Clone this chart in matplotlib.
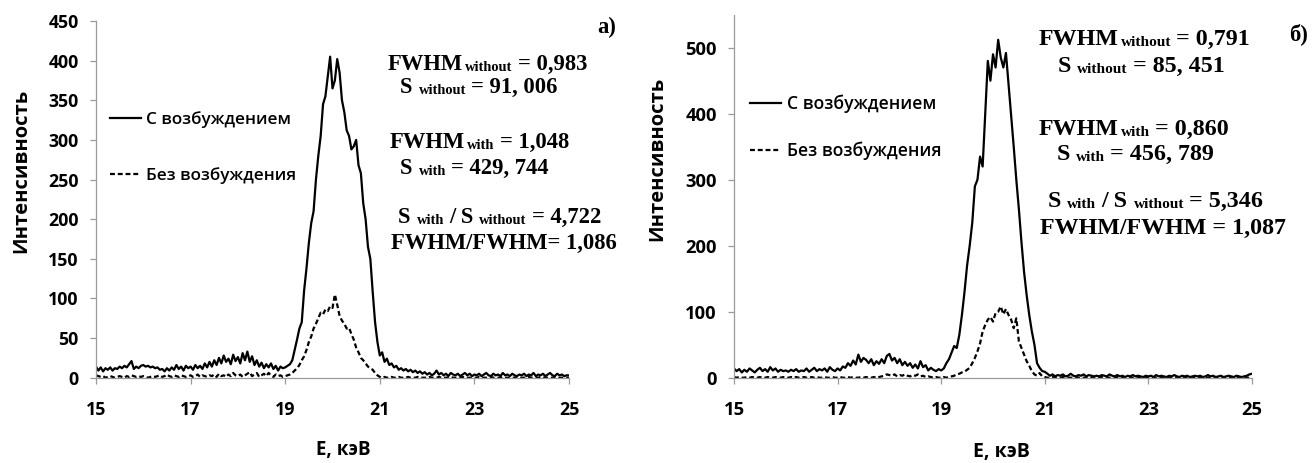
import matplotlib
matplotlib.use('Agg')
import matplotlib.pyplot as plt
import numpy as np

# energy grid, keV (0.05 keV step)
energy = np.round(np.arange(15, 25.001, 0.05), 2)

# panel a) intensities, one row per keV
with_a = [
    14, 9, 13, 8, 12, 10, 13, 9, 12, 11, 14, 12, 15, 13, 17, 21, 11, 14, 12, 15,
    16, 14, 15, 13, 14, 12, 13, 10, 11, 8, 12, 9, 13, 10, 16, 11, 14, 9, 15, 12,
    14, 10, 16, 12, 15, 11, 18, 13, 20, 14, 22, 16, 25, 18, 28, 20, 24, 17, 29, 21,
    26, 18, 31, 22, 33, 20, 27, 16, 22, 14, 19, 12, 17, 13, 18, 11, 15, 9, 14, 12,
    13, 15, 17, 22, 35, 48, 62, 70, 110, 138, 170, 195, 210, 250, 280, 305, 345, 355, 380, 405,
    365, 375, 402, 385, 350, 335, 312, 305, 288, 292, 300, 268, 258, 220, 200, 165, 150, 108, 70, 45,
    28, 32, 20, 24, 16, 18, 13, 15, 10, 12, 9, 11, 8, 10, 7, 9, 6, 8, 5, 7,
    4, 6, 3, 5, 9, 4, 6, 3, 5, 2, 6, 4, 3, 5, 2, 4, 6, 3, 5, 2,
    4, 3, 5, 2, 4, 6, 3, 2, 5, 3, 4, 2, 6, 3, 4, 2, 5, 3, 2, 4,
    3, 5, 2, 4, 3, 6, 2, 4, 3, 5, 2, 4, 6, 3, 2, 5, 3, 4, 2, 3,
    3]
without_a = [
    3, 2, 1, 2, 0, 1, 2, 1, 0, 1, 2, 1, 0, 2, 1, 3, 2, 1, 2, 1,
    2, 1, 0, 1, 2, 1, 2, 3, 1, 2, 4, 2, 1, 3, 2, 1, 3, 2, 1, 2,
    3, 1, 2, 4, 1, 3, 2, 1, 3, 2, 4, 1, 5, 2, 3, 1, 4, 2, 6, 3,
    2, 4, 1, 3, 5, 7, 2, 4, 6, 1, 3, 5, 2, 6, 3, 1, 4, 2, 3, 1,
    2, 3, 4, 6, 9, 12, 16, 22, 27, 35, 45, 52, 62, 68, 75, 82, 80, 86, 84, 90,
    88, 105, 92, 78, 72, 68, 62, 63, 55, 48, 38, 32, 25, 22, 18, 14, 12, 10, 6, 3,
    1, 0, 1, 0, 0, 1, 0, 0, 1, 0, 0, 0, 1, 0, 0, 0, 1, 0, 0, 0,
    0, 1, 0, 0, 0, 1, 0, 0, 0, 0, 1, 0, 0, 0, 0, 1, 0, 0, 0, 0,
    0, 0, 1, 0, 0, 0, 0, 1, 0, 0, 0, 0, 1, 0, 0, 0, 0, 0, 1, 0,
    0, 0, 0, 1, 0, 0, 0, 0, 1, 0, 0, 0, 0, 0, 1, 0, 0, 0, 0, 0,
    0]

# panel б)
with_b = [
    14, 10, 13, 8, 12, 9, 14, 11, 8, 12, 15, 10, 13, 9, 16, 11, 14, 9, 12, 10,
    11, 9, 12, 10, 13, 9, 11, 10, 14, 9, 12, 15, 10, 13, 11, 14, 9, 16, 12, 10,
    14, 11, 17, 15, 22, 18, 26, 20, 35, 24, 30, 27, 22, 28, 19, 25, 21, 28, 22, 33,
    36, 26, 30, 22, 28, 19, 24, 18, 22, 15, 20, 14, 25, 16, 19, 11, 15, 12, 10, 13,
    11, 14, 22, 28, 38, 48, 45, 65, 95, 130, 170, 200, 235, 290, 300, 335, 320, 400, 480, 450,
    490, 470, 512, 485, 470, 492, 445, 400, 350, 300, 255, 205, 160, 125, 95, 70, 50, 22, 15, 10,
    9, 6, 3, 5, 2, 4, 3, 5, 2, 3, 6, 3, 2, 4, 3, 5, 2, 4, 3, 2,
    3, 2, 4, 3, 2, 5, 3, 2, 4, 2, 3, 1, 3, 2, 4, 2, 3, 2, 1, 3,
    2, 3, 1, 4, 2, 3, 2, 1, 3, 2, 4, 2, 1, 3, 2, 3, 1, 2, 3, 2,
    3, 1, 2, 4, 2, 3, 1, 2, 3, 1, 2, 3, 2, 1, 3, 2, 1, 2, 3, 5,
    6]
without_b = [
    1, 0, 1, 0, 0, 1, 0, 1, 0, 0, 1, 0, 0, 1, 0, 0, 1, 0, 0, 1,
    0, 0, 1, 0, 1, 0, 0, 1, 0, 0, 1, 0, 1, 0, 0, 1, 0, 0, 1, 0,
    0, 1, 0, 0, 1, 0, 1, 0, 0, 1, 0, 1, 0, 0, 1, 0, 1, 2, 3, 5,
    4, 3, 5, 2, 4, 3, 5, 3, 2, 4, 3, 5, 2, 3, 1, 2, 1, 0, 1, 0,
    0, 1, 0, 1, 2, 3, 5, 6, 8, 9, 12, 15, 22, 30, 40, 52, 70, 80, 88, 92,
    85, 98, 100, 108, 96, 104, 95, 88, 75, 90, 55, 45, 35, 25, 18, 10, 5, 3, 7, 2,
    1, 0, 0, 1, 0, 0, 0, 1, 0, 0, 0, 0, 1, 0, 0, 0, 0, 1, 0, 0,
    0, 0, 1, 0, 0, 0, 0, 0, 1, 0, 0, 0, 0, 0, 0, 1, 0, 0, 0, 0,
    0, 1, 0, 0, 0, 0, 1, 0, 0, 0, 0, 0, 1, 0, 0, 0, 0, 0, 0, 1,
    0, 0, 0, 0, 1, 0, 0, 0, 0, 0, 1, 0, 0, 0, 0, 0, 1, 0, 0, 0,
    0]

x_ticks = [15, 17, 19, 21, 23, 25]
y_ticks_a = [0, 50, 100, 150, 200, 250, 300, 350, 400, 450]
y_ticks_b = [0, 100, 200, 300, 400, 500]

legend_labels = ['С возбуждением', 'Без возбуждения']
x_label = 'Е, кэВ'
y_label = 'Интенсивность'

# annotation pieces: (text, is_subscript, gap before in px)
notes_a = [
    [('FWHM', 0, 0), ('without', 1, 2), ('= 0,983', 0, 5)],
    [('S', 0, 0), ('without', 1, 6), ('= 91, 006', 0, 5)],
    [('FWHM', 0, 0), ('with', 1, 2), ('= 1,048', 0, 5)],
    [('S', 0, 0), ('with', 1, 6), ('= 429, 744', 0, 5)],
    [('S', 0, 0), ('with', 1, 6), ('/ S', 0, 5), ('without', 1, 6), ('= 4,722', 0, 5)],
    [('FWHM/FWHM= 1,086', 0, 0)],
]
notes_b = [
    [('FWHM', 0, 0), ('without', 1, 2), ('= 0,791', 0, 5)],
    [('S', 0, 0), ('without', 1, 6), ('= 85, 451', 0, 5)],
    [('FWHM', 0, 0), ('with', 1, 2), ('= 0,860', 0, 5)],
    [('S', 0, 0), ('with', 1, 6), ('= 456, 789', 0, 5)],
    [('S', 0, 0), ('with', 1, 6), ('/ S', 0, 5), ('without', 1, 6), ('= 5,346', 0, 5)],
    [('FWHM/FWHM = 1,087', 0, 0)],
]

plt.rcParams['font.family'] = ['Open Sans', 'DejaVu Sans']

W, H = 1314, 463


def px(x, y):
    return x / W, 1 - y / H


def draw_note(fig, renderer, x, y, parts, size):
    for text, sub, gap in parts:
        x += gap
        t = fig.text(*px(x, y + (1 if sub else 0)), text,
                     fontsize=size * (0.64 if sub else 1.0),
                     family='Liberation Serif', fontweight='bold',
                     ha='left', va='baseline')
        x = t.get_window_extent(renderer).x1


def draw_panel(ax, with_vals, without_vals, ymax, yticks, legend_y, spacing, fs):
    ax.plot(energy, with_vals, color='black', lw=1.6, label=legend_labels[0])
    ax.plot(energy, without_vals, color='black', lw=1.6, ls=(0, (2.2, 1.3)),
            label=legend_labels[1])
    ax.set_xlim(15, 25)
    ax.set_ylim(0, ymax)
    ax.set_xticks(x_ticks)
    ax.set_yticks(yticks)
    for side in ['top', 'right']:
        ax.spines[side].set_visible(False)
    for side in ['left', 'bottom']:
        ax.spines[side].set_color('#9a9a9a')
        ax.spines[side].set_linewidth(0.9)
    ax.tick_params(axis='both', color='#9a9a9a', length=4.5, width=0.9,
                   labelsize=fs)
    ax.tick_params(axis='y', pad=8)
    ax.tick_params(axis='x', pad=12)
    for lab in ax.get_xticklabels() + ax.get_yticklabels():
        lab.set_fontweight('bold')
    leg = ax.legend(loc='center left', bbox_to_anchor=(0.03, legend_y), frameon=False,
                    fontsize=fs - 0.5, handlelength=1.8, handletextpad=0.3,
                    labelspacing=spacing, borderpad=0, borderaxespad=0)
    for t in leg.get_texts():
        t.set_fontweight('semibold')


def main():
    fig = plt.figure(figsize=(W / 100, H / 100), dpi=100)
    renderer = fig.canvas.get_renderer()
    ax_a = fig.add_axes([96 / W, 1 - 377.7 / H, 473 / W, 356.7 / H])
    ax_b = fig.add_axes([734 / W, 1 - 377.7 / H, 518 / W, 363 / H])

    draw_panel(ax_a, with_a, without_a, 450, y_ticks_a, 0.645, 2.3, 12.8)
    draw_panel(ax_b, with_b, without_b, 550, y_ticks_b, 0.689, 1.6, 13.2)

    # axis titles
    fig.text(*px(343, 450), x_label, ha='center', va='center',
             fontsize=13.5, fontweight='bold')
    fig.text(*px(1001, 452), x_label, ha='center', va='center',
             fontsize=14, fontweight='bold')
    fig.text(*px(21, 171), y_label, ha='center', va='center', rotation=90,
             fontsize=14.5, fontweight='bold')
    fig.text(*px(657, 159), y_label, ha='center', va='center', rotation=90,
             fontsize=14.5, fontweight='bold')

    pos_a = [(388, 70), (400, 93), (390, 148), (400, 174), (398, 223), (391, 249)]
    pos_b = [(1039, 45), (1058, 72), (1039, 135), (1057, 160), (1048, 207), (1040, 234)]
    for parts, (x, y) in zip(notes_a, pos_a):
        draw_note(fig, renderer, x, y, parts, 16.3)
    for parts, (x, y) in zip(notes_b, pos_b):
        draw_note(fig, renderer, x, y, parts, 17.3)
    draw_note(fig, renderer, 597, 33, [('а)', 0, 0)], 16.3)
    draw_note(fig, renderer, 1289, 40, [('б)', 0, 0)], 16.3)

    fig.savefig('out.png', dpi=100)


if __name__ == "__main__":
    main()
